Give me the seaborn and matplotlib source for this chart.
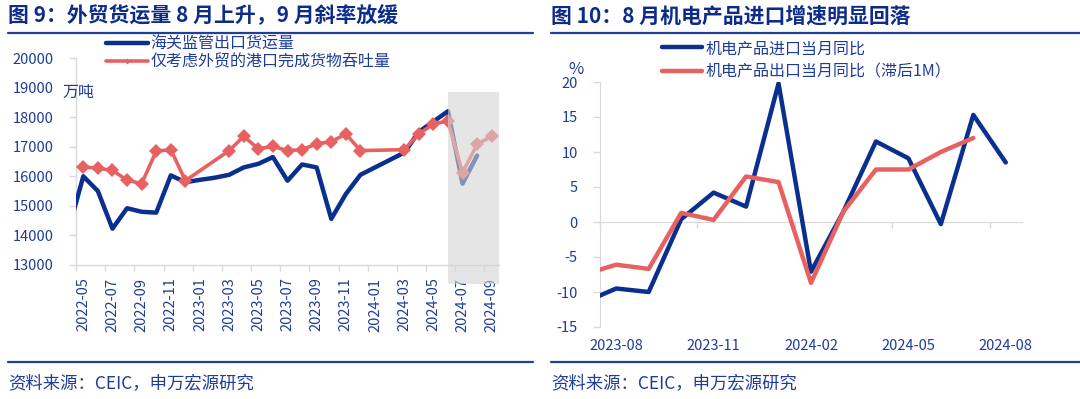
import numpy as np
import pandas as pd
import seaborn as sns
import matplotlib.pyplot as plt
from matplotlib.lines import Line2D
from matplotlib.patches import Rectangle

# 图9：外贸货运量（万吨），2022-04 ~ 2024-09，2022-04 只为画出左边被截断的那一段
months_l = pd.period_range('2022-04', '2024-09', freq='M').strftime('%Y-%m').tolist()
customs_export = [14200, 16000, 15500, 14230, 14920, 14800, 14770, 16030, 15800,
                  15880, 15950, 16050, 16300, 16420, 16650, 15850, 16400, 16300, 14560,
                  15400, 16050, 16300, 16550, 16800, 17500, 17850, 18200, 15750, 16700, np.nan]
port_trade = [np.nan, 16320, 16270, 16200, 15870, 15750, 16850, 16900, 15850,
              np.nan, np.nan, 16870, 17350, 16930, 17010, 16870, 16900, 17100, 17170,
              17430, 16870, np.nan, np.nan, 16900, 17430, 17770, 17870, 16120, 17090, 17350]
name_customs = '海关监管出口货运量'
name_port = '仅考虑外贸的港口完成货物吞吐量'

# 图10：机电产品进出口当月同比（%），2023-07 ~ 2024-08
months_r = pd.period_range('2023-07', '2024-08', freq='M').strftime('%Y-%m').tolist()
mech_import = [-11.5, -9.5, -10.0, 0.4, 4.2, 2.2, 19.8, -7.1, 1.5, 11.5, 9.1, -0.3, 15.3, 8.5]
mech_export_lag = [-7.5, -6.1, -6.7, 1.3, 0.3, 6.5, 5.7, -8.7, 1.5, 7.5, 7.5, 10.0, 12.0, np.nan]
name_import = '机电产品进口当月同比'
name_export = '机电产品出口当月同比（滞后1M）'

navy = '#0a2f8f'
red = '#e86161'
txt = '#1f3c99'
grid_c = '#d9d9d9'

sns.set_style('white')
plt.rcParams['font.family'] = ['Noto Sans CJK SC', 'DejaVu Sans']
plt.rcParams['axes.unicode_minus'] = False

W, H = 1080, 399
fig = plt.figure(figsize=(W / 100, H / 100), dpi=100)


def fx(px):
    return px / W


def fy(py):
    return 1 - py / H


df_l = pd.DataFrame({'month': months_l, name_customs: customs_export, name_port: port_trade})
df_l['idx'] = np.arange(len(df_l)) - 1

df_r = pd.DataFrame({'month': months_r, name_import: mech_import, name_export: mech_export_lag})
df_r['idx'] = np.arange(len(df_r)) - 1

# ---------------- 左图 ----------------
ax1 = fig.add_axes([fx(76), fy(265), fx(499) - fx(76), fy(58) - fy(265)])
d = df_l.dropna(subset=[name_customs])
sns.lineplot(data=d, x='idx', y=name_customs, ax=ax1, color=navy, lw=3.2, zorder=3)
d = df_l.dropna(subset=[name_port])
sns.lineplot(data=d, x='idx', y=name_port, ax=ax1, color=red, lw=2.6, marker='D',
             markersize=7.5, markeredgewidth=0, zorder=4)

ax1.set_xlim(-0.5, len(df_l) - 1.5)
ax1.set_ylim(13000, 20000)
ax1.set_yticks(range(13000, 20001, 1000))
lab_idx = df_l['idx'][(df_l['idx'] >= 0) & (df_l['idx'] % 2 == 0)]
ax1.set_xticks(lab_idx)
ax1.set_xticklabels(df_l.loc[lab_idx.index, 'month'], rotation=90)
ax1.set_xticks(lab_idx - 0.5, minor=True)
ax1.tick_params(axis='x', which='major', length=0, pad=9, labelsize=10.5, labelcolor=txt)
ax1.tick_params(axis='x', which='minor', length=4, color=grid_c, width=1, direction='out')
ax1.tick_params(axis='y', length=5, color=grid_c, width=1, direction='out', pad=11,
                labelsize=10.5, labelcolor=txt)
ax1.set_xlabel('')
ax1.set_ylabel('')
for s in ['top', 'right']:
    ax1.spines[s].set_visible(False)
for s in ['left', 'bottom']:
    ax1.spines[s].set_color(grid_c)
    ax1.spines[s].set_linewidth(1)
ax1.xaxis.set_tick_params(which='both', bottom=True)
ax1.yaxis.set_tick_params(left=True)

# 灰色预测区
ax1.add_patch(Rectangle((25, 12350), len(df_l) - 1.5 - 25, 18850 - 12350,
                        transform=ax1.transData, facecolor='#d5d5d5', alpha=0.6,
                        edgecolor='none', clip_on=False, zorder=10))

h1 = [Line2D([], [], color=navy, lw=3.2),
      Line2D([], [], color=red, lw=2.6, marker='D', markersize=3, markeredgewidth=0)]
leg1 = ax1.legend(h1, [name_customs, name_port], loc='upper left',
                  bbox_to_anchor=(fx(106), fy(36)), bbox_transform=fig.transFigure,
                  frameon=False, fontsize=11.5, handlelength=2.6, handletextpad=0.2,
                  labelspacing=0.03, borderpad=0, borderaxespad=0)
for t in leg1.get_texts():
    t.set_color(txt)
fig.text(fx(62), fy(92), '万吨', fontsize=11.5, color=txt, va='center')

# ---------------- 右图 ----------------
ax2 = fig.add_axes([fx(600), fy(327), fx(1022) - fx(600), fy(82) - fy(327)])
d = df_r.dropna(subset=[name_import])
sns.lineplot(data=d, x='idx', y=name_import, ax=ax2, color=navy, lw=3.2, zorder=3)
d = df_r.dropna(subset=[name_export])
sns.lineplot(data=d, x='idx', y=name_export, ax=ax2, color=red, lw=3.2, zorder=4)

ax2.set_xlim(-0.5, len(df_r) - 1.5)
ax2.set_ylim(-15, 20)
ax2.set_yticks(range(-15, 21, 5))
lab_r = df_r['idx'][(df_r['idx'] >= 0) & (df_r['idx'] % 3 == 0)]
ax2.set_xticks(lab_r)
ax2.set_xticklabels(df_r.loc[lab_r.index, 'month'])
ax2.tick_params(axis='x', length=0, pad=9, labelsize=10.5, labelcolor=txt)
ax2.tick_params(axis='y', length=5, color=grid_c, width=1, direction='out', pad=11,
                labelsize=10.5, labelcolor=txt, left=True)
ax2.set_xlabel('')
ax2.set_ylabel('')
for s in ['top', 'right', 'bottom']:
    ax2.spines[s].set_visible(False)
ax2.spines['left'].set_color(grid_c)

zero_ax = ax2.secondary_xaxis(0, transform=ax2.transData)
zero_ax.set_xticks(lab_r - 0.5)
zero_ax.set_xticklabels([])
zero_ax.tick_params(length=4, color=grid_c, width=1, direction='out')
zero_ax.spines['bottom'].set_color(grid_c)
zero_ax.set_zorder(1)

h2 = [Line2D([], [], color=navy, lw=3.2), Line2D([], [], color=red, lw=3.2)]
leg2 = ax2.legend(h2, [name_import, name_export], loc='upper left',
                  bbox_to_anchor=(fx(662), fy(40)), bbox_transform=fig.transFigure,
                  frameon=False, fontsize=11.5, handlelength=2.5, handletextpad=0.2,
                  labelspacing=0.42, borderpad=0, borderaxespad=0)
for t in leg2.get_texts():
    t.set_color(txt)
fig.text(fx(568), fy(70), '%', fontsize=12, color=txt, va='center')

# ---------------- 标题与来源 ----------------
for x0, x1, title in [(8, 533, '图 9：外贸货运量 8 月上升，9 月斜率放缓'),
                      (551, 1080, '图 10：8 月机电产品进口增速明显回落')]:
    fig.text(fx(x0), fy(16), title, fontsize=15, fontweight='bold', color='#0d2c8a', va='center')
    fig.add_artist(Line2D([fx(x0), fx(x1)], [fy(33), fy(33)], color='#1f3f99', lw=1.6))
    fig.add_artist(Line2D([fx(x0), fx(x1)], [fy(362), fy(362)], color='#1f3f99', lw=1.6))
    fig.text(fx(x0), fy(383), '资料来源：CEIC，申万宏源研究', fontsize=12.5, color=txt, va='center')

fig.savefig('out.png', dpi=100)
